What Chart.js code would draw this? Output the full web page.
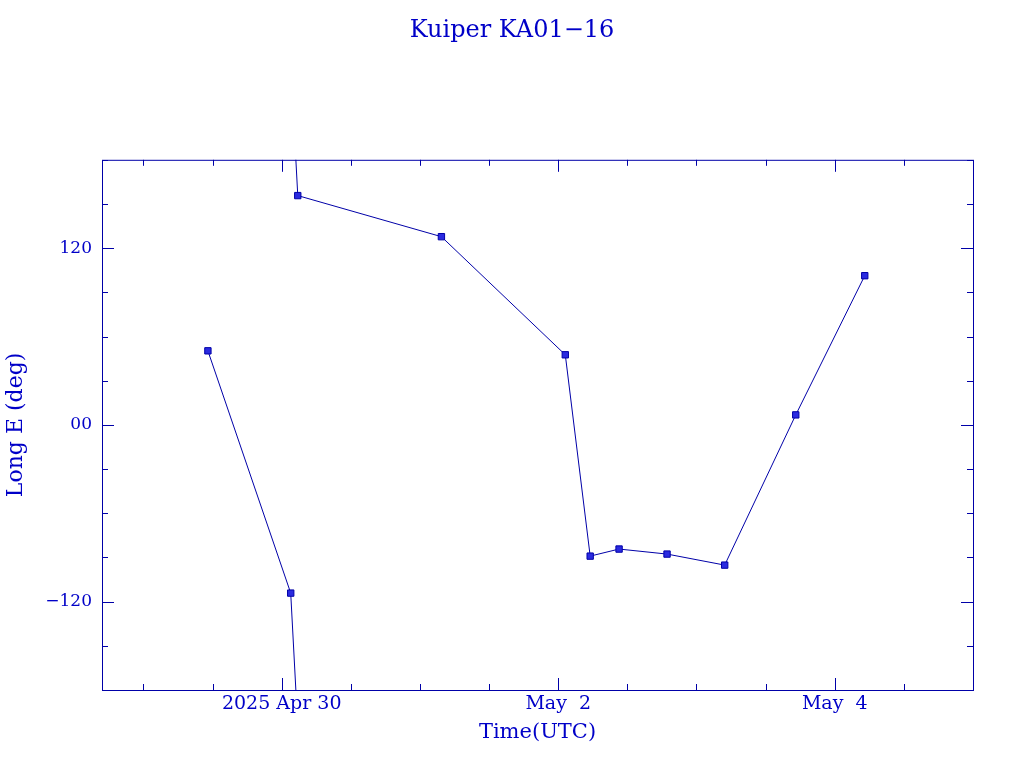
<!DOCTYPE html>
<html lang="en">
<head>
<meta charset="utf-8">
<title>Kuiper KA01-16</title>
<script src="https://cdn.jsdelivr.net/npm/chart.js"></script>
<style>
    html, body { margin: 0; padding: 0; background: #ffffff; }
    #wrap { width: 1024px; height: 768px; }
</style>
</head>
<body>
<div id="wrap"><canvas id="chart" width="1024" height="768"></canvas></div>
<script>
    // time in days since 2025 Apr 30 00:00 UTC
    const times = [-0.534, 0.065, 0.116, 1.155, 2.051, 2.231, 2.440, 2.787, 3.204, 3.718, 4.217];
    // east longitude, degrees
    const longitudes = [50.3, -114.2, 155.7, 127.8, 47.6, -89.1, -84.3, -87.7, -95.2, 6.8, 101.3];
    const xTickLabels = { '0': '2025 Apr 30', '2': 'May  2', '4': 'May  4' };
    const yTickLabels = { '-120': '\u2212120', '0': '00', '120': '120' };

    const ink = '#0000a8';
    const textInk = '#0000c8';
    const face = 'DejaVu Serif';

    // split the track where longitude wraps past +-180, with a continuation point off the plot
    function buildSegments() {
        const segs = [];
        let cur = [];
        for (let i = 0; i < times.length; i++) {
            if (i > 0 && Math.abs(longitudes[i] - longitudes[i - 1]) > 180) {
                const shift = longitudes[i] > longitudes[i - 1] ? -360 : 360;
                cur.push({ x: times[i], y: longitudes[i] + shift, ghost: true });
                segs.push(cur);
                cur = [{ x: times[i - 1], y: longitudes[i - 1] - shift, ghost: true }];
            }
            cur.push({ x: times[i], y: longitudes[i] });
        }
        segs.push(cur);
        return segs;
    }

    const datasets = buildSegments().map(seg => ({
        data: seg,
        yAxisID: 'y',
        borderColor: ink,
        borderWidth: 1,
        backgroundColor: ink,
        pointStyle: 'rect',
        pointRadius: seg.map(p => p.ghost ? 0 : 4.5),
        pointBorderColor: ink,
        pointBackgroundColor: '#2a2ae0',
        pointBorderWidth: 1,
        tension: 0
    }));

    // pgplot-like frame with inward ticks on all four sides
    const frame = {
        id: 'frame',
        afterDatasetsDraw(chart) {
            const c = chart.ctx, a = chart.chartArea;
            const xs = chart.scales.x, ys = chart.scales.y;
            c.save();
            c.strokeStyle = ink;
            c.lineWidth = 1;
            c.strokeRect(a.left + 0.5, a.top + 0.5, a.right - a.left, a.bottom - a.top);
            c.beginPath();
            xs.ticks.forEach(t => {
                const px = Math.round(xs.getPixelForValue(t.value)) + 0.5;
                const len = (Math.abs(t.value % 2) < 1e-6) ? 12 : 6;
                c.moveTo(px, a.bottom); c.lineTo(px, a.bottom - len);
                c.moveTo(px, a.top); c.lineTo(px, a.top + len);
            });
            ys.ticks.forEach(t => {
                const py = Math.round(ys.getPixelForValue(t.value)) + 0.5;
                const len = (Math.abs(t.value % 120) < 1e-6) ? 12 : 6;
                c.moveTo(a.left, py); c.lineTo(a.left + len, py);
                c.moveTo(a.right, py); c.lineTo(a.right - len, py);
            });
            c.stroke();
            c.restore();
        }
    };

    new Chart(document.getElementById('chart'), {
        type: 'line',
        data: { datasets: datasets },
        plugins: [frame],
        options: {
            responsive: false,
            animation: false,
            layout: { padding: 0 },
            plugins: {
                legend: { display: false },
                tooltip: { enabled: false },
                title: {
                    display: true,
                    text: 'Kuiper KA01\u221216',
                    color: textInk,
                    font: { family: face, size: 24, weight: 'normal' },
                    padding: { top: 16, bottom: 115 }
                }
            },
            scales: {
                x: {
                    type: 'linear',
                    min: -1.3,
                    max: 5.0,
                    afterBuildTicks: s => {
                        s.ticks = [];
                        for (let v = -1; v <= 4.5; v += 0.5) s.ticks.push({ value: v });
                    },
                    afterFit: s => { s.height = 78; },
                    grid: { display: false, drawTicks: false },
                    border: { display: false },
                    ticks: {
                        autoSkip: false,
                        maxRotation: 0,
                        padding: 3,
                        color: textInk,
                        font: { family: face, size: 19 },
                        callback: v => xTickLabels[String(v)] || ''
                    },
                    title: {
                        display: true,
                        text: 'Time(UTC)',
                        color: textInk,
                        font: { family: face, size: 21 },
                        padding: { top: 2, bottom: 23 }
                    }
                },
                y: {
                    position: 'left',
                    min: -180,
                    max: 180,
                    afterBuildTicks: s => {
                        s.ticks = [];
                        for (let v = -180; v <= 180; v += 30) s.ticks.push({ value: v });
                    },
                    afterFit: s => { s.width = 102; },
                    grid: { display: false, drawTicks: false },
                    border: { display: false },
                    ticks: {
                        autoSkip: false,
                        padding: 10,
                        color: textInk,
                        font: { family: face, size: 17 },
                        callback: v => yTickLabels[String(v)] || ''
                    },
                    title: {
                        display: true,
                        text: 'Long E (deg)',
                        color: textInk,
                        font: { family: face, size: 22 },
                        padding: { top: 3, bottom: 0 }
                    }
                },
                // empty right-hand margin so the title stays centred on the page
                yRight: {
                    position: 'right',
                    min: -180,
                    max: 180,
                    afterFit: s => { s.width = 51; },
                    grid: { display: false, drawTicks: false },
                    border: { display: false },
                    ticks: { display: false }
                }
            }
        }
    });
</script>
</body>
</html>
